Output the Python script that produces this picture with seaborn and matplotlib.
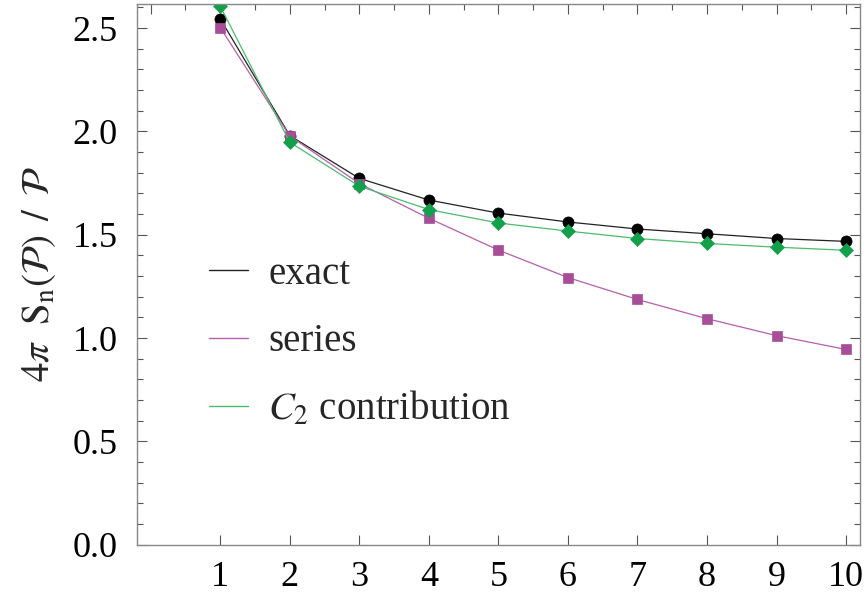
import numpy as np
import pandas as pd
import matplotlib
matplotlib.use("Agg")
import matplotlib.pyplot as plt
from matplotlib.lines import Line2D
from matplotlib.ticker import MultipleLocator, FixedLocator
import seaborn as sns

n_values = [1, 2, 3, 4, 5, 6, 7, 8, 9, 10]
exact = [2.545, 1.98, 1.773, 1.668, 1.605, 1.562, 1.528, 1.505, 1.482, 1.468]
series = [2.503, 1.978, 1.748, 1.58, 1.426, 1.293, 1.187, 1.094, 1.012, 0.945]
c2_contribution = [2.606, 1.948, 1.735, 1.622, 1.557, 1.518, 1.482, 1.458, 1.44, 1.425]
labels = ["exact", "series", "$C_2$ contribution"]
x_ticks = [1, 2, 3, 4, 5, 6, 7, 8, 9, 10]
y_ticks = [0.0, 0.5, 1.0, 1.5, 2.0, 2.5]

sns.set_style("ticks")
plt.rcParams["font.family"] = ["Liberation Serif", "DejaVu Serif"]
plt.rcParams["mathtext.fontset"] = "stix"

fig = plt.figure(figsize=(8.66, 5.96), dpi=100)
ax = fig.add_axes([0.158, 0.086, 0.835, 0.907])

line_cols = ["#222222", "#B85EAA", "#4CBB6C"]
mark_cols = ["#000000", "#A84E98", "#13A04A"]
markers = ["o", "s", "D"]
msizes = [8, 7, 7.5]
data = [exact, series, c2_contribution]

for vals, lc, mc, mk, ms in zip(data, line_cols, mark_cols, markers, msizes):
    df = pd.DataFrame({"n": n_values, "v": vals})
    sns.lineplot(data=df, x="n", y="v", ax=ax, color=lc, lw=0.9,
                 marker=mk, markersize=ms, markerfacecolor=mc,
                 markeredgecolor=mc, markeredgewidth=0.5)

ax.set_xlim(-0.2, 10.2)
ax.set_ylim(0, 2.616)
ax.set_xlabel("")
ax.set_ylabel(r"$4\pi\ \ \mathrm{S_n}(\mathcal{P})\ \,/\ \,\mathcal{P}$", fontsize=28, labelpad=10)

ax.xaxis.set_major_locator(FixedLocator(x_ticks))
ax.set_xticklabels([str(t) for t in x_ticks])
ax.yaxis.set_major_locator(FixedLocator(y_ticks))
ax.set_yticklabels([f"{t:.1f}" for t in y_ticks])
ax.yaxis.set_minor_locator(MultipleLocator(0.1))

ax.tick_params(axis="both", which="both", direction="in", colors="#555555",
               labelcolor="black", labelsize=26, width=0.8,
               right=True, top=False)
ax.tick_params(axis="x", which="major", length=7, pad=12)
ax.tick_params(axis="y", which="major", length=7, pad=14)
ax.tick_params(axis="y", which="minor", length=4)

# top ticks (frame ticks, unlabeled)
secx = ax.secondary_xaxis("top")
secx.xaxis.set_major_locator(MultipleLocator(1.0))
secx.xaxis.set_minor_locator(MultipleLocator(0.5))
secx.tick_params(which="both", direction="in", labeltop=False, colors="#555555", width=0.8)
secx.tick_params(which="major", length=7)
secx.tick_params(which="minor", length=4)
secx.spines["top"].set_visible(False)

for s in ax.spines.values():
    s.set_color("#888888")
    s.set_linewidth(1.0)

handles = [Line2D([0], [0], color=c, lw=1.0) for c in line_cols]
leg = ax.legend(handles, labels, loc="upper left", bbox_to_anchor=(0.10, 0.534),
                frameon=False, fontsize=28, handlelength=1.0, handletextpad=0.52,
                labelspacing=0.78, borderpad=0, borderaxespad=0)

fig.savefig("out.png", dpi=100)
